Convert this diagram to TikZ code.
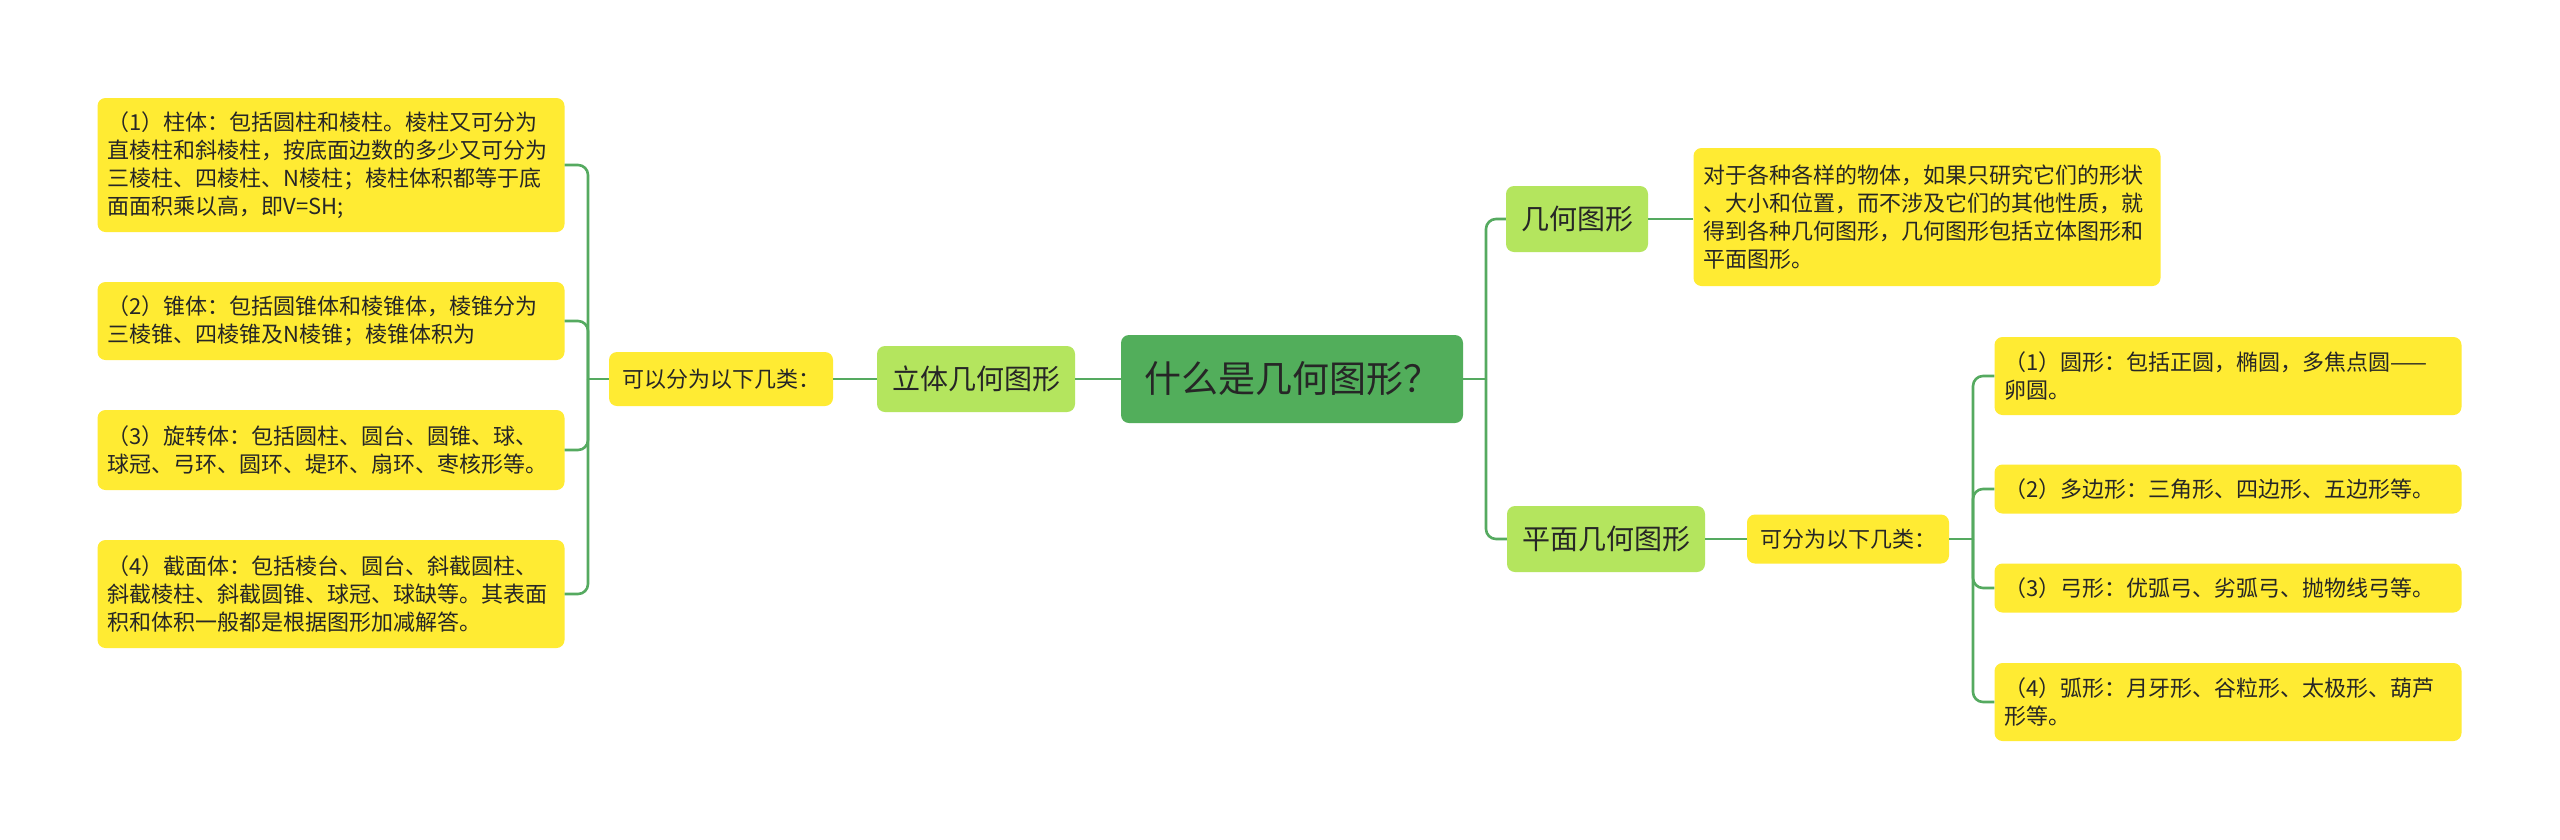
\documentclass[tikz,border=0pt]{standalone}
\usepackage{fontspec}
\setmainfont{Noto Sans CJK SC}
\usetikzlibrary{positioning,calc}
\definecolor{rootGreen}{HTML}{52AE5B}
\definecolor{subGreen}{HTML}{B4E55E}
\definecolor{leafYel}{HTML}{FFEB33}
\definecolor{linkGreen}{HTML}{55AA60}
\definecolor{inkText}{HTML}{262626}

\begin{document}
\begin{tikzpicture}[
  x=1pt, y=-1pt,
  bx/.style={rounded corners=8pt, inner ysep=0pt, anchor=center, text=inkText},
  rootbox/.style={bx, fill=rootGreen, minimum height=88pt, inner xsep=23pt, font=\fontsize{37}{44}\selectfont},
  subbox/.style={bx, fill=subGreen, minimum height=66pt, inner xsep=15pt, font=\fontsize{28}{34}\selectfont},
  tagbox/.style={bx, fill=leafYel, inner xsep=13pt, font=\fontsize{22}{28}\selectfont},
  leafbox/.style={bx, fill=leafYel, align=left, text width=447pt, inner xsep=10pt, font=\fontsize{22}{28}\selectfont},
  link/.style={draw=linkGreen, line width=2.6pt, rounded corners=10pt},
]
\fill[white] (0,0) rectangle (2560,839);
\useasboundingbox (0,0) rectangle (2560,839);

% =========================== ROOT ===========================
\node[rootbox] (root) at (1292,379) {什么是几何图形？};

% =========================== LEFT: SOLID FIGURES ===========================
\node[subbox] (solid) at (976,379) {立体几何图形};
\node[tagbox, minimum height=54pt] (solidtag) at (721,379) {可以分为以下几类：};
\coordinate (sj) at (588,379);

\node[leafbox, minimum height=134pt] (s1) at (331,165)
  {（1）柱体：包括圆柱和棱柱。棱柱又可分为\\直棱柱和斜棱柱，按底面边数的多少又可分为\\三棱柱、四棱柱、N棱柱；棱柱体积都等于底\\面面积乘以高，即V=SH;};
\node[leafbox, minimum height=78pt] (s2) at (331,321)
  {（2）锥体：包括圆锥体和棱锥体，棱锥分为\\三棱锥、四棱锥及N棱锥；棱锥体积为};
\node[leafbox, minimum height=80pt] (s3) at (331,450)
  {（3）旋转体：包括圆柱、圆台、圆锥、球、\\球冠、弓环、圆环、堤环、扇环、枣核形等。};
\node[leafbox, minimum height=108pt] (s4) at (331,594)
  {（4）截面体：包括棱台、圆台、斜截圆柱、\\斜截棱柱、斜截圆锥、球冠、球缺等。其表面\\积和体积一般都是根据图形加减解答。};

\draw[link] (root.west) -- (solid.east);
\draw[link] (solid.west) -- (solidtag.east);
\draw[link] (solidtag.west) -- (sj);
\foreach \i in {1,...,4}{
  \draw[link] (sj) |- (s\i.east);}

% =========================== RIGHT: GEOMETRY / PLANE ===========================
\coordinate (rj) at (1486,379);
\node[subbox] (geo) at (1577,219) {几何图形};
\node[leafbox, minimum height=138pt] (geodesc) at (1927,217)
  {对于各种各样的物体，如果只研究它们的形状\\、大小和位置，而不涉及它们的其他性质，就\\得到各种几何图形，几何图形包括立体图形和\\平面图形。};
\node[subbox] (plane) at (1606,539) {平面几何图形};
\node[tagbox, minimum height=49pt] (planetag) at (1848,539) {可分为以下几类：};
\coordinate (pj) at (1973,539);

\node[leafbox, minimum height=78pt] (p1) at (2228,376)
  {（1）圆形：包括正圆，椭圆，多焦点圆——\\卵圆。};
\node[leafbox, minimum height=49pt] (p2) at (2228,489)
  {（2）多边形：三角形、四边形、五边形等。};
\node[leafbox, minimum height=49pt] (p3) at (2228,588)
  {（3）弓形：优弧弓、劣弧弓、抛物线弓等。};
\node[leafbox, minimum height=78pt] (p4) at (2228,702)
  {（4）弧形：月牙形、谷粒形、太极形、葫芦\\形等。};

\draw[link] (root.east) -- (rj);
\draw[link] (rj) |- (geo.west);
\draw[link] (rj) |- (plane.west);
\draw[link] (geo.east) -- (geo.east -| geodesc.west);
\draw[link] (plane.east) -- (planetag.west);
\draw[link] (planetag.east) -- (pj);
\foreach \i in {1,...,4}{
  \draw[link] (pj) |- (p\i.west);}

\end{tikzpicture}
\end{document}
